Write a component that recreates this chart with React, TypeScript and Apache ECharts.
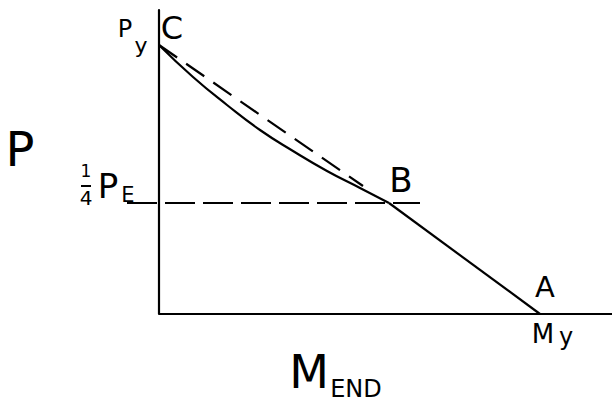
import React, { useEffect, useRef } from "react";
import * as echarts from "echarts";

// Data space: x = moment (M_END), y = axial load (P)
const curveCB: [number, number][] = [
  [0, 269], [34, 237], [68, 209], [101, 184], [134, 163],
  [168, 143], [201, 126], [230, 111],
];
const lineBA: [number, number][] = [[230, 111], [381, 0]];
const dashedCB: [number, number][] = [[0, 269], [204, 128]];
const dashedQuarterPE: [number, number][] = [[-32, 111], [261, 111]];
const xAxisLine: [number, number][] = [[0, 0], [453, 0]];

const X_MIN = -40;
const X_MAX = 453;
const Y_MIN = 0;
const Y_MAX = 304;

const FONT = "DejaVu Sans";

function txt(text: string, x: number, y: number, size: number) {
  return {
    type: "text",
    x,
    y,
    style: {
      text,
      fontSize: size,
      fontFamily: FONT,
      fill: "#000",
      textAlign: "center",
      textVerticalAlign: "middle",
    },
  };
}

export default function App() {
  const ref = useRef<HTMLDivElement>(null);
  useEffect(() => {
    if (!ref.current) return;
    const chart = echarts.init(ref.current, undefined, { renderer: "svg" });
    const solid = { color: "#000", width: 2.2 };
    chart.setOption({
      animation: false,
      backgroundColor: "#fff",
      grid: { left: 119, right: 0, top: 10, bottom: 91, containLabel: false },
      xAxis: {
        type: "value",
        min: X_MIN,
        max: X_MAX,
        axisLine: { show: false },
        axisTick: { show: false },
        axisLabel: { show: false },
        splitLine: { show: false },
      },
      yAxis: {
        type: "value",
        min: Y_MIN,
        max: Y_MAX,
        axisLine: { show: true, onZero: true, lineStyle: { color: "#000", width: 2.2 } },
        axisTick: { show: false },
        axisLabel: { show: false },
        splitLine: { show: false },
      },
      series: [
        { type: "line", data: xAxisLine, symbol: "none", lineStyle: solid },
        { type: "line", data: curveCB, symbol: "none", smooth: 0.5, lineStyle: solid },
        { type: "line", data: lineBA, symbol: "none", lineStyle: solid },
        { type: "line", data: dashedCB, symbol: "none", lineStyle: { color: "#000", width: 2.2, type: [22, 11] } },
        { type: "line", data: dashedQuarterPE, symbol: "none", lineStyle: { color: "#000", width: 2.2, type: [30, 8] } },
      ],
      graphic: [
        txt("P", 20, 149, 48),
        txt("P", 125, 29, 24),
        txt("y", 141, 45, 22),
        txt("C", 172, 28, 32),
        txt("1", 86, 171, 17),
        { type: "line", shape: { x1: 81, y1: 186, x2: 91, y2: 186 }, style: { stroke: "#000", lineWidth: 2 } },
        txt("4", 86, 198, 20),
        txt("P", 108, 186, 34),
        txt("E", 128, 195, 21),
        txt("B", 401, 180, 34),
        txt("A", 545, 287, 29),
        txt("M", 543, 334, 26),
        txt("y", 566, 337, 24),
        txt("M", 309, 372, 46),
        txt("END", 356, 389, 24),
      ],
    });
    return () => chart.dispose();
  }, []);
  return <div ref={ref} style={{ width: 612, height: 405, position: "fixed", left: 0, top: 0 }} />;
}
